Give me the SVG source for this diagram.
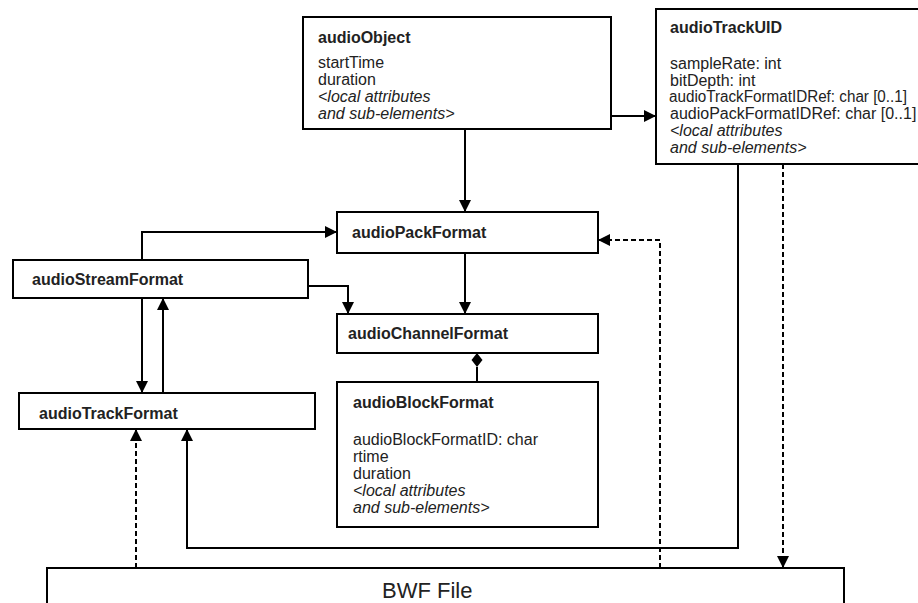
<svg xmlns="http://www.w3.org/2000/svg" width="918" height="603" viewBox="0 0 918 603">
<style>
.box{fill:#fff;stroke:#000;stroke-width:2}
.t{font-family:"Liberation Sans",Arial,sans-serif;font-size:16px;fill:#222}
.b{font-weight:bold}
.i{font-style:italic}
.c{fill:none;stroke:#000;stroke-width:2}
.d{stroke-dasharray:5 3}
</style>
<defs>
<marker id="arr" markerWidth="12" markerHeight="12" refX="12" refY="6" orient="auto" markerUnits="userSpaceOnUse">
<path d="M0,0 L12,6 L0,12 z" fill="#000" stroke="none"/>
</marker>
</defs>
<rect width="918" height="603" fill="#fff"/>

<g id="audioObject">
<rect class="box" x="303" y="17" width="308" height="112"/>
<text class="t b" x="318" y="43">audioObject</text>
<text class="t" x="318" y="68">startTime</text>
<text class="t" x="318" y="85">duration</text>
<text class="t i" x="318" y="102">&lt;local attributes</text>
<text class="t i" x="318" y="119">and sub-elements&gt;</text>
</g>

<g id="audioTrackUID">
<rect class="box" x="656" y="9" width="272" height="155"/>
<text class="t b" x="670" y="33">audioTrackUID</text>
<text class="t" x="670" y="69">sampleRate: int</text>
<text class="t" x="670" y="86">bitDepth: int</text>
<text class="t" x="669" y="102" textLength="238" lengthAdjust="spacingAndGlyphs">audioTrackFormatIDRef: char [0..1]</text>
<text class="t" x="670" y="119">audioPackFormatIDRef: char [0..1]</text>
<text class="t i" x="670" y="136">&lt;local attributes</text>
<text class="t i" x="670" y="153">and sub-elements&gt;</text>
</g>

<g id="audioPackFormat">
<rect class="box" x="337" y="212" width="261" height="41"/>
<text class="t b" x="352" y="238">audioPackFormat</text>
</g>

<g id="audioStreamFormat">
<rect class="box" x="13" y="260" width="295" height="38"/>
<text class="t b" x="32" y="285">audioStreamFormat</text>
</g>

<g id="audioChannelFormat">
<rect class="box" x="337" y="314" width="261" height="39"/>
<text class="t b" x="348" y="339">audioChannelFormat</text>
</g>

<g id="audioBlockFormat">
<rect class="box" x="337" y="382" width="261" height="145"/>
<text class="t b" x="353" y="408">audioBlockFormat</text>
<text class="t" x="353" y="445">audioBlockFormatID: char</text>
<text class="t" x="353" y="462">rtime</text>
<text class="t" x="353" y="479">duration</text>
<text class="t i" x="353" y="496">&lt;local attributes</text>
<text class="t i" x="353" y="513">and sub-elements&gt;</text>
</g>

<g id="audioTrackFormat">
<rect class="box" x="19" y="393" width="296" height="36"/>
<text class="t b" x="39" y="419">audioTrackFormat</text>
</g>

<g id="BWFFile">
<rect class="box" x="47" y="568" width="797" height="50"/>
<text x="382" y="598" font-family="'Liberation Sans',Arial,sans-serif" font-size="22" fill="#222">BWF File</text>
</g>

<g id="connectors">
<path class="c" d="M611,116 H656" marker-end="url(#arr)"/>
<path class="c" d="M465,129 V212" marker-end="url(#arr)"/>
<path class="c" d="M465,253 V314" marker-end="url(#arr)"/>
<path class="c" d="M477,367 V382"/>
<path d="M477,353 L482.5,360 L477,367 L471.5,360 z" fill="#000"/>
<path class="c" d="M142,260 V232 H337" marker-end="url(#arr)"/>
<path class="c" d="M308,286 H348 V314" marker-end="url(#arr)"/>
<path class="c" d="M142,298 V393" marker-end="url(#arr)"/>
<path class="c" d="M163,393 V298" marker-end="url(#arr)"/>
<path class="c" d="M738,164 V548 H187 V429" marker-end="url(#arr)"/>
<path class="c d" d="M783,164 V568" marker-end="url(#arr)"/>
<path class="c d" d="M136,568 V429" marker-end="url(#arr)"/>
<path class="c d" d="M660,568 V240 H598" marker-end="url(#arr)"/>
</g>
</svg>
